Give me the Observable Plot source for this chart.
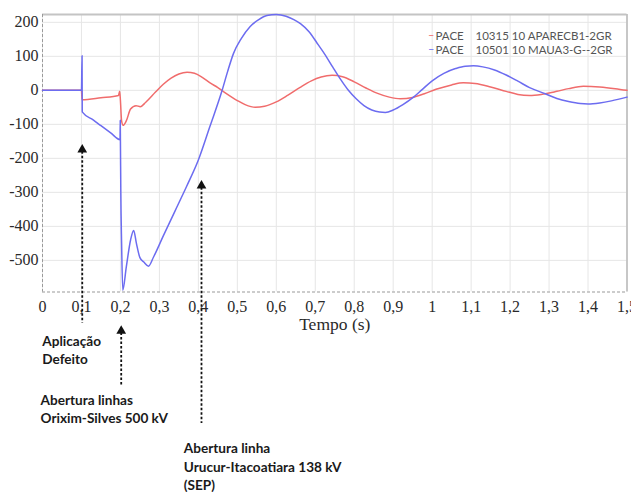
<!DOCTYPE html>
<html><head><meta charset="utf-8">
<script src="https://cdn.jsdelivr.net/npm/d3@7"></script>
<script src="https://cdn.jsdelivr.net/npm/@observablehq/plot@0.6"></script>
<style>body{margin:0;background:#fff;}</style>
</head><body><div id="chart"></div>
<script>
// Series: PACE 10315 10 APARECB1-2GR (red)
const redT = [0, 0.1, 0.1015, 0.15, 0.195, 0.198, 0.2, 0.203, 0.207, 0.215, 0.226, 0.24, 0.251, 0.265, 0.29, 0.31, 0.33, 0.35, 0.371, 0.39, 0.41, 0.43, 0.45, 0.47, 0.5, 0.52, 0.546, 0.57, 0.6, 0.63, 0.66, 0.69, 0.715, 0.743, 0.77, 0.8, 0.83, 0.86, 0.89, 0.918, 0.95, 0.98, 1.01, 1.05, 1.08, 1.11, 1.15, 1.19, 1.22, 1.25, 1.28, 1.32, 1.35, 1.388, 1.43, 1.47, 1.5];
const redV = [0, 0, -28, -22, -15, -3, -30, -90, -103, -90, -55, -45, -48, -35, -5, 18, 36, 48, 53, 50, 38, 22, 8, -8, -30, -42, -50, -47, -34, -14, 8, 28, 39, 44, 40, 25, 7, -9, -20, -25, -21, -10, 3, 16, 22, 20, 10, -3, -12, -15, -12, -3, 5, 12, 10, 5, 0];
// Series: PACE 10501 10 MAUA3-G--2GR (blue)
const blueT = [0, 0.1, 0.1015, 0.102, 0.103, 0.13, 0.15, 0.175, 0.199, 0.1995, 0.2, 0.201, 0.203, 0.206, 0.215, 0.226, 0.234, 0.241, 0.25, 0.26, 0.272, 0.285, 0.31, 0.34, 0.37, 0.4, 0.43, 0.461, 0.475, 0.49, 0.51, 0.533, 0.555, 0.576, 0.6, 0.625, 0.645, 0.662, 0.684, 0.704, 0.725, 0.745, 0.765, 0.785, 0.805, 0.825, 0.845, 0.865, 0.88, 0.9, 0.925, 0.952, 0.975, 1.0, 1.03, 1.06, 1.085, 1.106, 1.13, 1.16, 1.19, 1.22, 1.25, 1.29, 1.32, 1.35, 1.38, 1.4, 1.43, 1.46, 1.5];
const blueV = [0, 0, 102, -62, -65, -87, -104, -125, -145, -88, -150, -300, -450, -588, -520, -440, -412, -450, -492, -505, -517, -490, -428, -355, -282, -205, -105, 0, 55, 108, 152, 188, 208, 220, 223, 218, 208, 196, 172, 140, 105, 68, 32, 0, -25, -45, -58, -64, -65, -58, -42, -20, 3, 28, 50, 64, 71, 72, 69, 60, 45, 27, 8, -10, -24, -33, -39, -40, -37, -31, -20];

const xTicks = [0, 0.1, 0.2, 0.3, 0.4, 0.5, 0.6, 0.7, 0.8, 0.9, 1, 1.1, 1.2, 1.3, 1.4, 1.5];
const yTicks = [200, 100, 0, -100, -200, -300, -400, -500];
const xDomain = [0, 1.5];
const yDomain = [-593, 223];

const seriesNames = ["PACE", "PACE"];
const seriesIds = ["10315 10 APARECB1-2GR", "10501 10 MAUA3-G--2GR"];
const seriesColors = ["#f06c6c", "#6c6cf0"];

const eventTimes = [0.102, 0.202, 0.408];
const arrowTop = [-167, -700, -273];
const arrowBottom = [-685, -867, -980];
const eventLabels = ["Aplicação\nDefeito", "Abertura linhas\nOrixim-Silves 500 kV", "Abertura linha\nUrucur-Itacoatiara 138 kV\n(SEP)"];
const xLabel = "Tempo (s)";

const red = redT.map((t, i) => ({t, v: redV[i]}));
const blue = blueT.map((t, i) => ({t, v: blueV[i]}));
const events = eventTimes.map((t, i) => ({t, top: arrowTop[i], bottom: arrowBottom[i], label: eventLabels[i]}));
const legend = seriesNames.map((n, i) => ({name: n, id: seriesIds[i], color: seriesColors[i]}));
const fmt = d => String(d).replace(".", ",");

const serif = "Liberation Serif, serif";
const sans = "Lato, sans-serif";
const labelOffsets = [{dx: -40, dy: 40.5}, {dx: -80.7, dy: 99.5}, {dx: -17.7, dy: 148}];

const plot = Plot.plot({
  width: 631, height: 492,
  marginLeft: 42, marginRight: 4.5, marginTop: 14, marginBottom: 200.5,
  x: {domain: xDomain},
  y: {domain: yDomain},
  style: {background: "white"},
  marks: [
    Plot.gridX(xTicks, {stroke: "#e6e6e6", strokeOpacity: 1}),
    Plot.gridY(yTicks, {stroke: "#e6e6e6", strokeOpacity: 1}),
    Plot.ruleY([yDomain[1]], {stroke: "#c4c4c4", strokeWidth: 2}),
    Plot.ruleX([xDomain[1]], {stroke: "#b8b8b8", strokeWidth: 1.5}),
    Plot.ruleX([xDomain[0]], {stroke: "#9a9a9a", strokeDasharray: "3,2"}),
    Plot.ruleY([yDomain[0]], {stroke: "#9a9a9a", strokeDasharray: "3,2", strokeWidth: 1.2}),
    Plot.axisX({ticks: xTicks, tickFormat: fmt, tickSize: 0, tickPadding: 9, fontSize: 16, fontFamily: serif, fill: "#2a2a2a", label: null}),
    Plot.axisY({ticks: yTicks, tickFormat: fmt, tickSize: 0, tickPadding: 4, fontSize: 16, fontFamily: serif, fill: "#2a2a2a", label: null}),
    Plot.text([xLabel], {frameAnchor: "bottom", dy: 38, fontSize: 17.5, fontFamily: serif, fill: "#2a2a2a"}),
    Plot.line(red, {x: "t", y: "v", stroke: seriesColors[0], strokeWidth: 1.5, curve: "monotone-x"}),
    Plot.line(blue, {x: "t", y: "v", stroke: seriesColors[1], strokeWidth: 1.5, curve: "monotone-x"}),
    ...legend.map((d, i) => Plot.text([d], {text: () => "–", fill: d.color, frameAnchor: "top-right", textAnchor: "start", dx: -199, dy: 17 + 14 * i, fontSize: 11, fontFamily: sans})),
    ...legend.map((d, i) => Plot.text([d], {text: "name", fill: "#555", frameAnchor: "top-right", textAnchor: "start", dx: -191.5, dy: 17 + 14 * i, fontSize: 11.5, fontFamily: sans})),
    ...legend.map((d, i) => Plot.text([d], {text: "id", fill: "#555", frameAnchor: "top-right", textAnchor: "start", dx: -151.5, dy: 17 + 14 * i, fontSize: 11.5, fontFamily: sans})),
    Plot.ruleX(events, {x: "t", y1: "top", y2: "bottom", stroke: "#111", strokeWidth: 1.8, strokeDasharray: "2.5,2"}),
    Plot.dot(events, {x: "t", y: "top", symbol: "triangle", r: 3.6, fill: "#111", stroke: null, dy: 2.5}),
    ...events.map((e, i) => Plot.text([e], {x: "t", text: "label", frameAnchor: "bottom", textAnchor: "start", lineAnchor: "top", lineHeight: 1.36, dx: labelOffsets[i].dx, dy: labelOffsets[i].dy, fontSize: 13.6, fontWeight: "bold", fontFamily: sans, fill: "#1a1a1a"}))
  ]
});
document.getElementById("chart").appendChild(plot);
</script>
</body></html>
